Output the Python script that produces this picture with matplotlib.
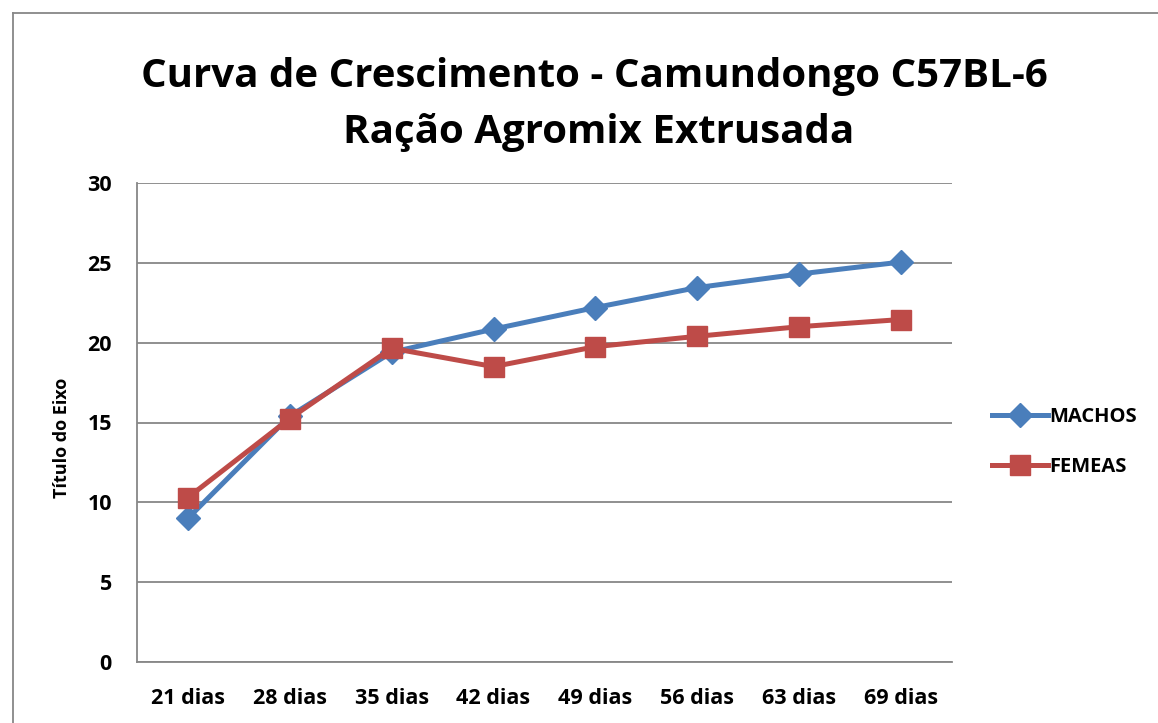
import matplotlib
matplotlib.use("Agg")
import matplotlib.pyplot as plt
from matplotlib.lines import Line2D

categories = ["21 dias", "28 dias", "35 dias", "42 dias", "49 dias", "56 dias", "63 dias", "69 dias"]
machos = [9.0, 15.4, 19.4, 20.85, 22.2, 23.45, 24.3, 25.05]
femeas = [10.3, 15.25, 19.65, 18.5, 19.75, 20.4, 21.0, 21.45]
yticks = [0, 5, 10, 15, 20, 25, 30]

FONT = "Open Sans"
W, H = 1158, 723
fig = plt.figure(figsize=(W / 100, H / 100), dpi=100)
fig.patch.set_facecolor("white")

ax = fig.add_axes([137 / W, 1 - 662 / H, (952 - 137) / W, (662 - 183) / H])
x = range(len(categories))
blue = "#4A7EBB"
red = "#BE4B48"
ax.plot(x, machos, color=blue, lw=3.6, marker="D", ms=12, mfc=blue, mec=blue, label="MACHOS", zorder=3)
ax.plot(x, femeas, color=red, lw=3.6, marker="s", ms=14, mfc=red, mec=red, label="FEMEAS", zorder=4)

ax.set_xlim(-0.5, len(categories) - 0.5)
ax.set_ylim(0, 30)
ax.set_yticks(yticks)
ax.set_xticks(list(x))
ax.set_xticklabels(categories)
ax.tick_params(length=0, labelsize=15.5)
ax.tick_params(axis="x", pad=19)
ax.tick_params(axis="y", pad=18)
for lab in ax.get_xticklabels() + ax.get_yticklabels():
    lab.set_fontfamily(FONT)
    lab.set_fontweight("bold")
ax.grid(axis="y", color="#878787", lw=1.3)
ax.set_axisbelow(True)
for s in ["top", "right"]:
    ax.spines[s].set_visible(False)
for s in ["left", "bottom"]:
    ax.spines[s].set_color("#878787")
    ax.spines[s].set_linewidth(1.3)

fig.text(62 / W, 1 - 438 / H, "Título do Eixo", rotation=90, ha="center", va="center",
         fontsize=13, fontweight="bold", family=FONT)

fig.text(594 / W, 1 - 77 / H, "Curva de Crescimento - Camundongo C57BL-6", ha="center", va="center",
         fontsize=29, fontweight="bold", family=FONT)
fig.text(599 / W, 1 - 133 / H, "Ração Agromix Extrusada", ha="center", va="center",
         fontsize=29, fontweight="bold", family=FONT)

handles = [Line2D([], [], color=blue, lw=3.6, marker="D", ms=12),
           Line2D([], [], color=red, lw=3.6, marker="s", ms=14)]
fig.legend(handles, ["MACHOS", "FEMEAS"], loc="center left", bbox_to_anchor=(974 / W, 1 - 442 / H),
           frameon=False, handlelength=2.75, handletextpad=0.1, labelspacing=1.45,
           prop={"family": FONT, "weight": "bold", "size": 14.5})

# outer chart frame
fig.add_artist(Line2D([12.5 / W, 12.5 / W], [0, 1 - 12.5 / H], color="#878787", lw=1.3, transform=fig.transFigure))
fig.add_artist(Line2D([12.5 / W, 1], [1 - 12.5 / H, 1 - 12.5 / H], color="#878787", lw=1.3, transform=fig.transFigure))

fig.savefig("out.png", dpi=100)
